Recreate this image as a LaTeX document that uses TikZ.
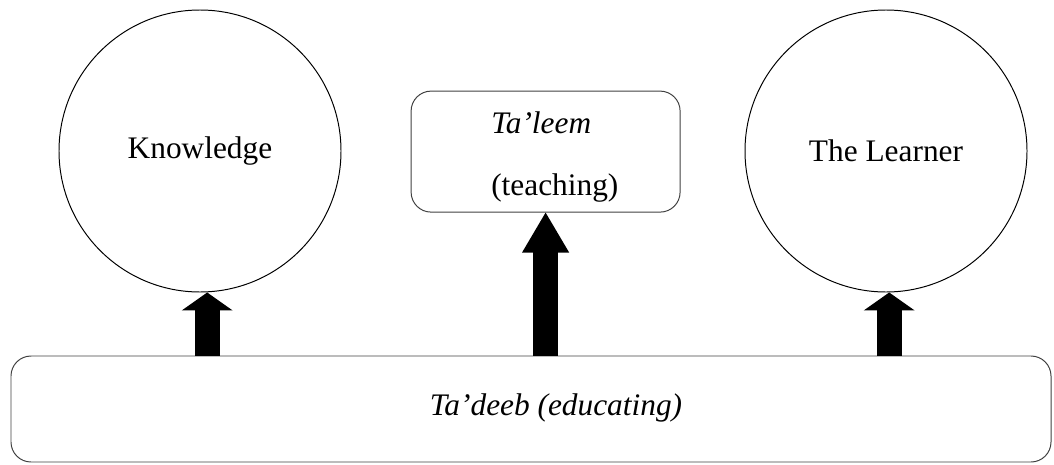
\documentclass[tikz,border=0pt]{standalone}
\usepackage{fontspec}
\setmainfont{Liberation Serif}
\usetikzlibrary{arrows.meta}
\begin{document}
\begin{tikzpicture}
    \tikzset{
        idea/.style={draw, circle, line width=0.7pt, minimum size=7.05cm, inner sep=0pt},
        field/.style={draw=black!75, rounded corners=0.5cm, line width=0.7pt},
        words/.style={inner sep=0pt, font=\fontsize{22.3}{27}\selectfont},
        lift/.style={line width=0.625cm, -{Triangle[length=0.45cm 0 0, width=1.275cm 0, line width=0pt 0 0]},
            postaction={draw, -, shorten >=0.4cm}},
        biglift/.style={line width=0.625cm, -{Triangle[length=1cm 0 0, width=1.18cm 0, line width=0pt 0 0]},
            postaction={draw, -, shorten >=0.95cm}}
    }
    \useasboundingbox (0,0) rectangle (26.35,-11.6);

    \draw node[idea, words] (know) at (5,-3.775) {Knowledge};
    \draw node[idea, words] (learner) at (22.15,-3.775) {The Learner};
    \draw node[field, minimum width=6.725cm, minimum height=3.025cm] (taleem) at (13.64,-3.79) {};
    \node[words, anchor=west, align=left] (taleemtext) at (12.275,-3.925) {\textit{Ta’leem}\\[17pt] (teaching)};
    \draw node[field, minimum width=26cm, minimum height=2.65cm] (tadeeb) at (13.275,-10.225) {};
    \node[words] (tadeebtext) at (13.9,-10.2) {\textit{Ta’deeb (educating)}};

    \foreach \x/\s in {know/0.18, learner/0.08}{
        \path (\x.south) ++(\s,0) coordinate (\x tip);
        \draw[lift] (tadeeb.north -| \x tip) -- (\x tip);
    }
    \draw[biglift] (tadeeb.north -| taleem.south) -- (taleem.south);
\end{tikzpicture}
\end{document}
